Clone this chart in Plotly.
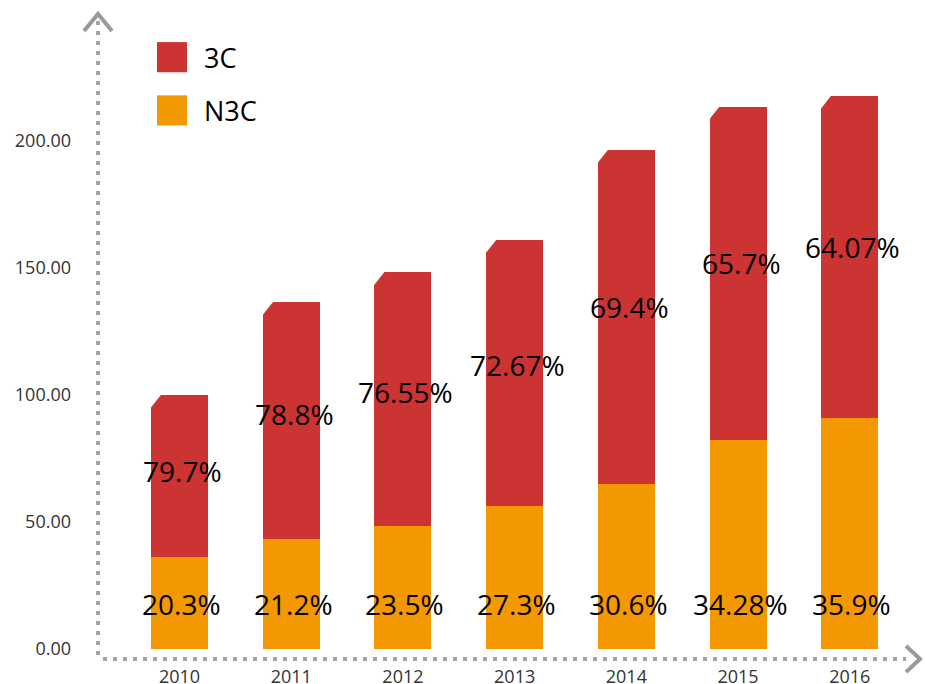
import plotly.graph_objects as go

years = ["2010", "2011", "2012", "2013", "2014", "2015", "2016"]
n3c_values = [36.0, 43.1, 48.2, 56.2, 65.1, 82.3, 91.0]
c3_values = [64.0, 93.3, 100.1, 104.7, 131.2, 131.1, 126.7]
c3_labels = ["79.7%", "78.8%", "76.55%", "72.67%", "69.4%", "65.7%", "64.07%"]
n3c_labels = ["20.3%", "21.2%", "23.5%", "27.3%", "30.6%", "34.28%", "35.9%"]
y_ticks = [0, 50, 100, 150, 200]

RED = "#CC3333"
ORANGE = "#F39800"
GRAY = "#A3A3A3"
FONT = "Open Sans"

REF_W, REF_H = 925, 684
W, H = 925, 700           # the page is shown 700px tall and fitted to 684
K = H / REF_H             # vertical factor reference-px -> figure-px
ML, MR = 98, 25
MT = 20 * K
MB = H - 646 * K
PW, PH = W - ML - MR, H - MT - MB


def px(xp):
    """reference-pixel x -> paper"""
    return (xp - ML) / PW


def py(yp):
    """reference-pixel y -> paper"""
    return (H - MB - yp * K) / PH


idx = list(range(len(years)))
bar_w = 0.51
x_range = [-0.73, 6.45]
y_range = [0, PH / (2.53 * K)]
unit_x = PW / (x_range[1] - x_range[0])
unit_y = PH / (y_range[1] - y_range[0])
cut_dx = 10 / unit_x
cut_dy = 14 * K / unit_y

fig = go.Figure()
fig.add_bar(x=idx, y=n3c_values, marker=dict(color=ORANGE, line=dict(width=0)),
            width=bar_w, name="N3C", showlegend=False, hoverinfo="skip")
fig.add_bar(x=idx, y=c3_values, marker=dict(color=RED, line=dict(width=0)),
            width=bar_w, name="3C", showlegend=False, hoverinfo="skip")

shapes = []
annotations = []
for i, (a, b) in enumerate(zip(n3c_values, c3_values)):
    top = a + b
    x0 = i - bar_w / 2 - 0.01
    shapes.append(dict(type="path", xref="x", yref="y", layer="above",
                       path=f"M {x0},{top + 1} L {x0 + cut_dx + 0.01},{top + 1} "
                            f"L {x0 + cut_dx + 0.01},{top} L {x0},{top - cut_dy} Z",
                       fillcolor="white", line=dict(width=0)))
    annotations.append(dict(x=i, y=a + b * 0.53, xref="x", yref="y", xshift=3,
                            text=c3_labels[i], showarrow=False,
                            font=dict(family=FONT, size=28, color="#000")))
    annotations.append(dict(x=i, y=0, xref="x", yref="y", xshift=2, yshift=43.5 * K,
                            text=n3c_labels[i], showarrow=False,
                            font=dict(family=FONT, size=28, color="#000")))

# dotted axes
dot = dict(color=GRAY, width=4, dash="4px,6px")
shapes.append(dict(type="line", xref="paper", yref="paper",
                   x0=px(98), x1=px(98), y0=py(652), y1=py(20), line=dot))
shapes.append(dict(type="line", xref="paper", yref="paper",
                   x0=px(103), x1=px(906), y0=py(656), y1=py(656), line=dot))
arrow = dict(color="#999999", width=4)
shapes.append(dict(type="path", xref="paper", yref="paper",
                   path=f"M {px(84)},{py(31)} L {px(98)},{py(14)} L {px(112)},{py(31)}",
                   line=arrow))
shapes.append(dict(type="path", xref="paper", yref="paper",
                   path=f"M {px(906)},{py(643)} L {px(920)},{py(656)} L {px(906)},{py(669)}",
                   line=arrow))

# custom legend
for name, color, yc in [("3C", RED, 57), ("N3C", ORANGE, 110)]:
    shapes.append(dict(type="rect", xref="paper", yref="paper",
                       x0=px(157), x1=px(187), y0=py(yc - 15), y1=py(yc + 15),
                       fillcolor=color, line=dict(width=0)))
    annotations.append(dict(x=px(202), y=py(yc), xref="paper", yref="paper",
                            xanchor="left", yanchor="middle", text=name, showarrow=False,
                            font=dict(family=FONT, size=27, color="#000")))

fig.update_layout(
    width=W, height=H,
    margin=dict(l=ML, r=MR, t=MT, b=MB),
    paper_bgcolor="white", plot_bgcolor="white",
    barmode="stack",
    shapes=shapes, annotations=annotations,
    showlegend=False,
    xaxis=dict(range=x_range, tickvals=idx, ticktext=years,
               showgrid=False, zeroline=False, showline=False, ticks="",
               tickfont=dict(family=FONT, size=18, color="#333"),
               ticklabelstandoff=15),
    yaxis=dict(range=y_range, tickvals=y_ticks, tickformat=".2f",
               showgrid=False, zeroline=False, showline=False, ticks="",
               tickfont=dict(family=FONT, size=18, color="#333"),
               ticklabelstandoff=26),
)

fig.write_html(
    "out.html",
    config={"displayModeBar": False},
    post_script="document.body.style.margin='0';document.body.style.overflow='hidden';",
)
